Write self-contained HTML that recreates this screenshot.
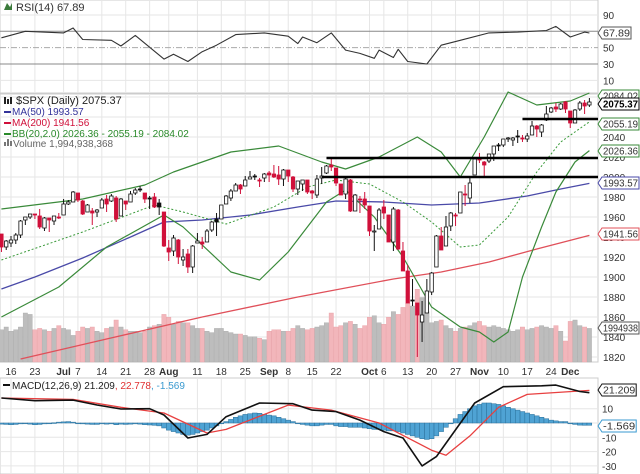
<!DOCTYPE html>
<html><head><meta charset="utf-8">
<style>
html,body{margin:0;padding:0;background:#fff;}
svg{display:block;font-family:"Liberation Sans",sans-serif;}
</style></head>
<body>
<svg id="chart" width="640" height="474" viewBox="0 0 640 474" xmlns="http://www.w3.org/2000/svg">
<g id="grid"></g>
<g id="volume"></g>
<g id="lines"></g>
<g id="candles"></g>
<g id="annot"></g>
<g id="macd"></g>
<g id="rsi"></g>
<g id="axes"></g>
<g id="legend">
  <text x="16" y="11" font-size="11" fill="#333">RSI(14) 67.89</text>
  <path d="M4 10 L7 3 L10 7 L12 3 L12 10 Z" fill="#3a7a3a"/>
  <text x="16" y="104" font-size="11" fill="#222">$SPX (Daily) 2075.37</text>
  <path d="M4 97 h2 v7 h-2z M7 99 h2 v5 h-2z M10 97 h2 v7 h-2z" fill="#222"/>
  <rect x="4" y="111" width="7" height="2" fill="#33339a"/>
  <text x="12" y="115" font-size="10" fill="#33339a">MA(50) 1993.57</text>
  <rect x="4" y="122" width="7" height="2" fill="#d0103a"/>
  <text x="12" y="126" font-size="10" fill="#d0103a">MA(200) 1941.56</text>
  <rect x="4" y="133" width="7" height="2" fill="#2a8a2a"/>
  <text x="12" y="137" font-size="10" fill="#2a8a2a">BB(20,2.0) 2026.36 - 2055.19 - 2084.02</text>
  <path d="M4 146 h2 v-4 h-2z M7 146 h2 v-7 h-2z M10 146 h2 v-5 h-2z" fill="#777"/>
  <text x="13" y="147" font-size="10" fill="#666">Volume 1,994,938,368</text>
  <rect x="3" y="384" width="7" height="2" fill="#111"/>
  <text x="12" y="389" font-size="10" fill="#222">MACD(12,26,9) 21.209<tspan fill="#e03030">, 22.778</tspan><tspan fill="#3a9ad0">, -1.569</tspan></text>
</g>
<g id="tags"></g>
</svg>
<script>
// ---- DATA (index -2 = Jun 12, 2014 ... 121 = Dec 5, 2014) ----
const opens = [1943,1930,1934,1937,1942,1957,1960,1963,1961,1949,1959,1956,1960,1962,1973,1975,1984,1976,1965,1966,1965,1969,1978,1976,1979,1961,1976,1975,1984,1988,1984,1979,1980,1974,1965,1929,1926,1937,1917,1923,1910,1934,1935,1935,1947,1958,1958,1973,1979,1986,1992,1991,1998,2001,1997,1999,2004,2003,2002,1998,2007,2000,1988,1993,1997,1986,1982,1999,2004,2012,2009,1993,1983,1997,1966,1978,1978,1971,1945,1948,1970,1962,1935,1967,1926,1906,1877,1874,1855,1864,1885,1910,1941,1931,1951,1962,1964,1983,1979,2002,2018,2015,2016,2023,2032,2032,2038,2037,2041,2039,2038,2042,2051,2045,2057,2065,2070,2068,2075,2066,2054,2068,2074,2072];
const highs = [1943,1937,1941,1944,1957,1960,1963,1963,1968,1960,1959,1961,1964,1978,1977,1986,1984,1977,1973,1969,1968,1979,1982,1983,1981,1979,1976,1986,1989,1991,1984,1981,1984,1978,1965,1937,1942,1938,1928,1928,1932,1944,1940,1948,1956,1964,1972,1982,1988,1994,1993,2001,2006,2003,1999,2004,2006,2012,2011,2008,2007,2001,1996,1997,1997,1987,2002,2010,2012,2019,2009,1993,1999,1998,1983,1981,1985,1971,1952,1969,1977,1962,1970,1968,1935,1912,1898,1874,1876,1898,1905,1942,1950,1961,1965,1964,1985,1992,1999,2018,2024,2016,2023,2031,2034,2038,2040,2040,2047,2042,2044,2056,2052,2053,2071,2070,2074,2074,2076,2066,2068,2076,2077,2079];
const lows = [1925,1927,1930,1933,1939,1952,1958,1958,1948,1946,1945,1952,1958,1962,1972,1975,1975,1962,1965,1952,1960,1969,1965,1975,1955,1961,1967,1975,1982,1985,1974,1968,1969,1962,1930,1916,1921,1913,1911,1904,1904,1934,1928,1935,1945,1941,1958,1973,1976,1986,1983,1991,1998,1997,1990,1995,1995,1999,1992,1991,1995,1985,1982,1986,1983,1978,1979,1993,2003,2006,1991,1982,1978,1965,1966,1964,1968,1941,1926,1948,1958,1935,1926,1927,1906,1874,1871,1820,1835,1864,1882,1910,1927,1931,1946,1951,1964,1971,1974,2002,2014,2001,2014,2016,2026,2030,2035,2031,2034,2035,2035,2042,2040,2040,2056,2064,2065,2067,2064,2049,2054,2066,2063,2070];
const closes = [1930,1936,1937,1942,1956,1960,1963,1962,1950,1959,1957,1961,1960,1973,1975,1985,1977,1963,1972,1964,1967,1977,1973,1981,1958,1978,1973,1983,1987,1988,1978,1978,1970,1970,1931,1925,1939,1920,1920,1910,1931,1936,1933,1946,1955,1955,1972,1981,1986,1992,1988,1997,2000,2000,1996,2003,2002,2000,1998,2007,2001,1988,1996,1997,1985,1984,1998,2001,2011,2010,1994,1982,1998,1966,1982,1978,1972,1946,1946,1967,1964,1935,1968,1928,1906,1874,1877,1862,1862,1886,1904,1941,1927,1950,1964,1961,1985,1982,1994,2018,2017,2012,2023,2031,2032,2038,2039,2039,2040,2039,2041,2051,2048,2052,2063,2069,2068,2073,2068,2054,2067,2074,2071,2075];
const volumes = [2.3,2.5,2.2,2.3,2.5,3.5,3.4,2.3,2.4,2.3,2.2,2.4,2.6,2.4,2.3,1.9,2.2,2.5,2.4,2.5,2.2,2.1,2.4,2.5,3.0,2.5,2.3,2.2,2.2,2.1,2.2,2.5,2.6,2.7,3.4,3.2,2.7,2.9,2.8,2.8,2.6,2.4,2.4,2.2,2.1,2.4,2.4,2.2,2.1,2.0,2.0,1.9,1.8,1.8,1.7,1.6,2.2,2.3,2.3,2.2,2.2,2.4,2.6,2.4,2.3,2.4,2.5,2.6,2.8,3.5,2.5,2.6,2.8,2.9,2.7,2.4,2.6,3.2,3.3,2.8,2.7,3.2,3.6,3.4,3.9,4.2,4.0,5.2,4.6,3.6,2.8,2.9,3.0,2.6,2.4,2.2,2.4,2.5,2.6,2.8,2.9,2.6,2.5,2.6,2.5,2.4,2.3,2.2,2.3,2.5,2.3,2.4,2.5,2.6,2.5,2.4,2.6,2.2,1.5,2.9,3.0,2.6,2.5,2.4];
const macdHist = [-0.8,-1,-1.2,-1,-0.6,-0.4,-0.8,-1.2,-1,-0.6,-0.4,0.2,0.6,0.8,1,0.6,-0.2,-0.6,-0.8,-1,-1,-0.6,-0.8,-0.6,-1.2,-0.8,-1,-0.8,-0.6,-0.8,-1.2,-1.4,-1.6,-2,-3.5,-5,-6,-7,-8,-8.5,-8,-7,-6,-5,-3.5,-2,-0.5,1,2.5,4,5,6,6.5,7,6.8,6,5.5,5,4,3,2,1,0,-1,-1.5,-2,-2,-1.5,-1,-1,-2,-2.5,-2.5,-3,-3,-3,-3.5,-4,-4.5,-4.5,-5,-5.5,-5.5,-6,-7,-8,-9,-10,-11,-11.5,-11,-9,-6,-3,0,3,6,8,10,12,13,14,14,13.5,13,12,11,10,9,8,7,6,5,4,3,2,1.5,1,1,0,-1,-1.5,-1.6,-1.57];
// sampled indicator lines: day indices + values
const ma50Days = [-2,5,15,25,32,40,50,60,68,78,88,98,108,115,121];
const ma50Vals = [1888,1900,1919,1940,1955,1957,1962,1970,1976,1975,1972,1974,1981,1988,1993.57];
const ma200Days = [2,20,40,60,80,90,100,110,121];
const ma200Vals = [1818,1838,1860,1880,1898,1905,1915,1928,1941.56];
const bbUpDays = [-2,15,28,34,46,56,65,70,77,85,90,94,99,104,110,117,121];
const bbUpVals = [1968,1978,1992,2005,2025,2031,2015,2008,2020,2040,2025,2000,2040,2085,2072,2076,2084.02];
const bbMidDays = [-2,15,30,36,45,55,62,68,75,82,88,94,98,104,110,115,121];
const bbMidVals = [1917,1945,1972,1965,1953,1970,1990,1997,1993,1975,1955,1930,1932,1960,2005,2035,2055.19];
const bbLowDays = [-2,10,20,32,36,46,52,58,66,70,76,82,88,94,98,101,104,107,111,114,118,121];
const bbLowVals = [1860,1890,1930,1962,1950,1905,1897,1925,1975,1987,1960,1920,1870,1850,1845,1835,1845,1900,1950,1985,2015,2026.36];
const rsiDays = [-2,3,11,13,15,21,23,26,32,34,37,40,43,47,53,58,60,61,64,67,70,73,76,77,80,81,83,87,90,94,100,106,112,114,117,120,121];
const rsiVals = [62,70,68,74,60,59,52,65,36,42,33,45,53,66,68,64,55,63,56,68,47,43,37,47,38,48,33,30,53,59,68,69,71,76,63,69,67.89];
const macdDays = [-2,5,13,18,23,29,32,37,41,45,52,59,63,68,73,78,82,86,89,97,103,111,114,119,121];
const macdVals = [17.5,15.6,16,12.6,9.8,10,5.6,-10.5,-8,4.4,14,13.5,9,8,2,-6,-10.5,-30,-23.5,14,25.4,26,26.5,22,21.209];
const sigDays = [-2,13,23,32,41,45,58,67,77,88,91,96,102,108,121];
const sigVals = [17.5,16.5,11,7,-7,-4.5,12.5,9,0,-19,-22.5,-9,11,20,22.778];
const supportStart = [66,65,107];
const supportLevel = [2019,2000,2058];
const priceTicks = [2040,2020,2000,1980,1960,1940,1920,1900,1880,1860,1840,1820];
const rsiTicks = [90,50,30,10];
const macdTicks = [10,-10,-20,-30];
const dateLabels = ["16","23","Jul","7","14","21","28","Aug","11","18","25","Sep","8","15","22","Oct","6","13","20","27","Nov","10","17","24","Dec"];
const dateDays = [0,5,11,14,19,24,29,33,39,44,49,54,58,63,68,75,78,83,88,93,98,103,108,113,117];

// ---- axis functions ----
const PLOT_R = 598;
const xOf = i => 11 + i * 4.78;
const yP = p => 177 - (p - 2000) * 1.0;
const yR = v => 88.5 - 0.817 * v;
const yM = v => 423 - 1.43 * v;
const yV = v => 362 - v * 14;
const NS = "http://www.w3.org/2000/svg";
function mk(tag, attrs, parent) {
  const e = document.createElementNS(NS, tag);
  for (const k in attrs) e.setAttribute(k, attrs[k]);
  parent.appendChild(e);
  return e;
}
const G = id => document.getElementById(id);

// ---- panels & grid ----
const grid = G('grid');
[[0,0,598,93],[0,94,598,268],[0,378,598,96]].forEach((r, k) => {
  const e = mk('rect', {x:r[0], y:r[1], width:r[2], height:r[3], fill:'#fff', stroke:'#ccc'}, grid);
  
  
});
dateDays.forEach(d => {
  const x = xOf(d);
  [[0,93],[94,362],[378,474]].forEach(s => {
    const l = mk('line', {x1:x, x2:x, y1:s[0], y2:s[1], stroke:'#e6e6e6'}, grid);
    
    
  });
});
for (let p = 1820; p <= 2080; p += 20) {
  const l = mk('line', {x1:0, x2:PLOT_R, y1:yP(p), y2:yP(p), stroke:'#e6e6e6'}, grid);
  
  
}
[90,10].forEach(v => { const l = mk('line', {x1:0,x2:PLOT_R,y1:yR(v),y2:yR(v),stroke:'#e6e6e6'}, grid);
    });
[10,-10,-20,-30,0].forEach(v => { const l = mk('line', {x1:0,x2:PLOT_R,y1:yM(v),y2:yM(v),stroke:'#e6e6e6'}, grid);
    });

// ---- volume ----
const vg = G('volume');
volumes.forEach((v, k) => {
  const i = k - 2;
  const down = k > 0 && closes[k] < closes[k-1];
  const r = mk('rect', {x:xOf(i)-2.2, y:yV(v), width:4.4, height:362-yV(v), fill: down ? '#f2b6bb' : '#bdbdbd', stroke: down?'#e8a0a6':'#aaa', 'stroke-width':0.4}, vg);
  
  
});

// ---- indicator lines ----
function poly(days, vals, yf, attrs, parent, name) {
  const pts = days.map((d, k) => xOf(d).toFixed(1) + ',' + yf(vals[k]).toFixed(1)).join(' ');
  const e = mk('polyline', Object.assign({points:pts, fill:'none', 'stroke-linejoin':'round'}, attrs), parent);
  
  
  return e;
}
const lg = G('lines');
poly(ma200Days, ma200Vals, yP, {stroke:'#e0505a','stroke-width':1.3}, lg, 'ma200-line');
poly(ma50Days, ma50Vals, yP, {stroke:'#4a4aa8','stroke-width':1.3}, lg, 'ma50-line');
poly(bbUpDays, bbUpVals, yP, {stroke:'#3a8a3a','stroke-width':1.2}, lg, 'bb-upper-line');
poly(bbMidDays, bbMidVals, yP, {stroke:'#3a9a3a','stroke-width':1,'stroke-dasharray':'2,2'}, lg, 'bb-middle-line');
poly(bbLowDays, bbLowVals, yP, {stroke:'#3a8a3a','stroke-width':1.2}, lg, 'bb-lower-line');

// ---- candles ----
const cg = G('candles');
closes.forEach((c, k) => {
  const i = k - 2, x = xOf(i), o = opens[k];
  const down = k > 0 ? c < closes[k-1] : c < o;
  const col = down ? '#d0103a' : '#111';
  const w = mk('line', {x1:x, x2:x, y1:yP(highs[k]), y2:yP(lows[k]), stroke:col, 'stroke-width':1}, cg);
  
  
  const top = yP(Math.max(o, c)), h = Math.max(1, Math.abs(yP(o) - yP(c)));
  const hollow = c > o;
  const b = mk('rect', {x:x-1.7, y:top, width:3.4, height:h, fill: hollow ? '#fff' : col, stroke: col, 'stroke-width':0.8}, cg);
  
  
});

// ---- support lines ----
const ag = G('annot');
supportLevel.forEach((p, k) => {
  const l = mk('line', {x1:xOf(supportStart[k]), x2:PLOT_R, y1:yP(p), y2:yP(p), stroke:'#000', 'stroke-width':2.6}, ag);
  
  
});

// ---- RSI ----
const rg = G('rsi');
[[70,'#888',''],[30,'#888',''],[50,'#aaa','6,2,1,2']].forEach(s => {
  const l = mk('line', {x1:0, x2:PLOT_R, y1:yR(s[0]), y2:yR(s[0]), stroke:s[1], 'stroke-dasharray':s[2]}, rg);
  
  
});
poly(rsiDays, rsiVals, yR, {stroke:'#333','stroke-width':1.1}, rg, 'rsi-line');

// ---- MACD ----
const mg = G('macd');
macdHist.forEach((v, k) => {
  const i = k - 2, y0 = yM(0), y1 = yM(v);
  const r = mk('rect', {x:xOf(i)-2.39, y:Math.min(y0,y1), width:4.78, height:Math.max(0.8,Math.abs(y1-y0)), fill:'#4fa3d4', stroke:'#2a6f99', 'stroke-width':0.5}, mg);
  
  
});
poly(sigDays, sigVals, yM, {stroke:'#e84040','stroke-width':1.3}, mg, 'macd-signal-line');
poly(macdDays, macdVals, yM, {stroke:'#111','stroke-width':1.6}, mg, 'macd-line');

// ---- axes labels ----
const ax = G('axes');
function txt(x, y, s, attrs, name) {
  const e = mk('text', Object.assign({x:x, y:y, 'font-size':10, fill:'#333'}, attrs), ax);
  e.textContent = s;
  
  
  return e;
}
rsiTicks.forEach(v => txt(603, yR(v)+4, String(v), {}, 'rsi-tick-label'));
priceTicks.forEach(v => txt(603, yP(v)+4, String(v), {}, 'price-tick-label'));
macdTicks.forEach(v => txt(602, yM(v)+4, String(v), {}, 'macd-tick-label'));
dateLabels.forEach((s, k) => {
  const bold = isNaN(+s);
  txt(xOf(dateDays[k]), 375, s, {'text-anchor':'middle', 'font-weight': bold ? 'bold' : 'normal', 'font-size':10}, 'date-label');
});

// ---- value tags ----
const tg = G('tags');
function tag(y, s, col, bold, name) {
  const g = mk('g', {}, tg);
  
  
  const w = Math.min(37, s.length * 5.2 + 3);
  mk('path', {d:`M598 ${y} L602 ${y-6} L${602+w} ${y-6} L${602+w} ${y+6} L602 ${y+6} Z`, fill:'#fff', stroke:col, 'stroke-width':1}, g);
  const t = mk('text', {x:603, y:y+3.5, 'font-size':10, fill: bold ? '#000' : '#333', 'font-weight': bold?'bold':'normal', textLength: w-2, lengthAdjust:'spacingAndGlyphs'}, g);
  t.textContent = s;
}
tag(yR(67.89), '67.89', '#555', false, 'rsi-value-tag');
tag(96, '2084.02', '#3a8a3a', false, 'bb-upper-tag');
tag(124, '2055.19', '#3a8a3a', false, 'bb-middle-tag');
tag(151, '2026.36', '#3a8a3a', false, 'bb-lower-tag');
tag(104, '2075.37', '#000', true, 'price-value-tag');
tag(183, '1993.57', '#4a4aa8', false, 'ma50-tag');
tag(234, '1941.56', '#e0505a', false, 'ma200-tag');
tag(328, '1994938', '#555', false, 'volume-tag');
tag(390, '21.209', '#111', false, 'macd-value-tag');
tag(426, '-1.569', '#3a9ad0', false, 'macd-hist-tag');
</script>
</body></html>
